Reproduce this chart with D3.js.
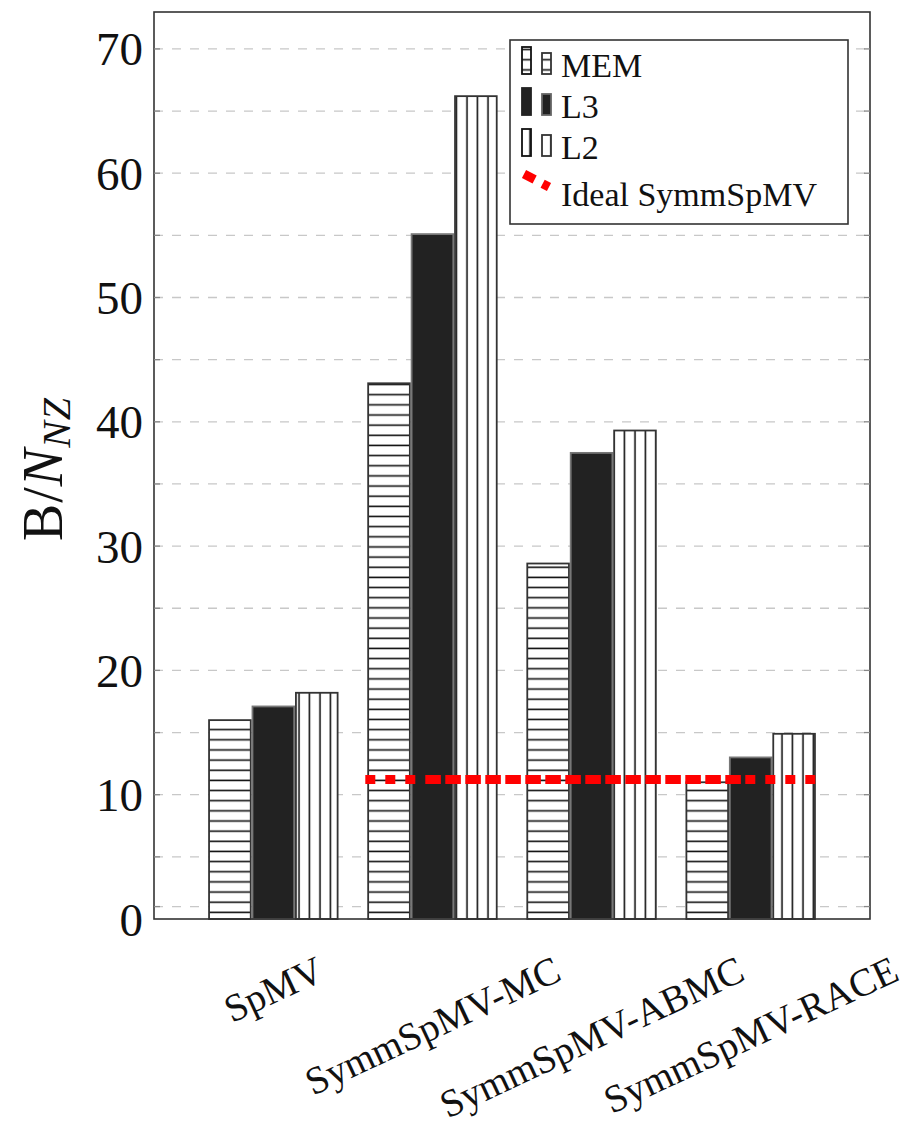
<html>
<script src='https://d3js.org/d3.v7.min.js'></script>
<style>
body {margin:0; background:white;}
text {font-family: 'Liberation Serif', 'DejaVu Serif', serif; fill:#111;}
</style>
<body onload='init()'>
<svg width=916 height=1128></svg>
<script>
// data
const categories = ["SpMV", "SymmSpMV-MC", "SymmSpMV-ABMC", "SymmSpMV-RACE"];
const seriesNames = ["MEM", "L3", "L2"];
const memValues = [16.0, 43.1, 28.6, 11.0];
const l3Values = [17.1, 55.1, 37.5, 13.0];
const l2Values = [18.2, 66.2, 39.3, 14.9];
const idealValue = 11.22;
const idealSpans = [[0.578, 3.42], [0.99, 2.98]];   // two overlapping dashed segments, x in group units
const yTicks = [0, 10, 20, 30, 40, 50, 60, 70];
const gridValues = [1, 5, 10, 15, 20, 25, 30, 35, 40, 45, 50, 55, 60, 65, 70];

function init() {
  var svg = d3.select("svg");
  var left = 154, right = 870, top = 12, bottom = 919;
  var x = d3.scaleLinear().domain([-0.75, 3.75]).range([left, right]);
  var y = d3.scaleLinear().domain([0, 72.97]).range([bottom, top]);

  var defs = svg.append("defs");
  var ph = defs.append("pattern").attr("id", "hlines").attr("patternUnits", "userSpaceOnUse")
    .attr("width", 10).attr("height", 10.15).attr("y", 4);
  ph.append("rect").attr("width", 10).attr("height", 10.15).attr("fill", "white");
  ph.append("line").attr("x1", 0).attr("x2", 10).attr("y1", 5).attr("y2", 5).attr("stroke", "#111").attr("stroke-width", 1.6);
  var pv = defs.append("pattern").attr("id", "vlines").attr("patternUnits", "userSpaceOnUse")
    .attr("width", 10.5).attr("height", 10).attr("x", 0);
  pv.append("rect").attr("width", 10.5).attr("height", 10).attr("fill", "white");
  pv.append("line").attr("x1", 5).attr("x2", 5).attr("y1", 0).attr("y2", 10).attr("stroke", "#111").attr("stroke-width", 1.6);

  var fills = {MEM: "url(#hlines)", L3: "#222", L2: "url(#vlines)"};
  var strokes = {MEM: "#333", L3: "#777", L2: "#333"};

  // grid
  svg.append("g").selectAll("line").data(gridValues).enter().append("line")
    .attr("x1", left).attr("x2", right)
    .attr("y1", d => y(d)).attr("y2", d => y(d))
    .attr("stroke", "#c8c8c8").attr("stroke-width", 1.3).attr("stroke-dasharray", "9 9");

  // bars
  var allValues = [memValues, l3Values, l2Values];
  var step = 0.273, bw = 0.262;
  var rows = [];
  seriesNames.forEach(function(s, j) {
    categories.forEach(function(c, i) {
      rows.push({s: s, i: i, j: j, v: allValues[j][i]});
    });
  });
  svg.append("g").selectAll("rect").data(rows).enter().append("rect")
    .attr("x", d => x(d.i + (d.j - 1) * step - bw / 2))
    .attr("width", d => x(bw) - x(0))
    .attr("y", d => y(d.v))
    .attr("height", d => y(0) - y(d.v))
    .attr("fill", d => fills[d.s])
    .attr("stroke", d => strokes[d.s]).attr("stroke-width", 1.8);

  // ideal line
  svg.append("g").selectAll("line").data(idealSpans).enter().append("line")
    .attr("x1", d => x(d[0])).attr("x2", d => x(d[1]))
    .attr("y1", y(idealValue)).attr("y2", y(idealValue))
    .attr("stroke", "#ff0000").attr("stroke-width", 9).attr("stroke-dasharray", "10 10");

  // frame and ticks
  svg.append("rect").attr("x", left).attr("y", top).attr("width", right - left).attr("height", bottom - top)
    .attr("fill", "none").attr("stroke", "#333").attr("stroke-width", 1.6);
  svg.append("g").selectAll("line").data(gridValues).enter().append("line")
    .attr("x1", left).attr("x2", left + 6).attr("y1", d => y(d)).attr("y2", d => y(d))
    .attr("stroke", "#888").attr("stroke-width", 1.3);
  svg.append("g").selectAll("line").data(gridValues).enter().append("line")
    .attr("x1", right - 6).attr("x2", right).attr("y1", d => y(d)).attr("y2", d => y(d))
    .attr("stroke", "#888").attr("stroke-width", 1.3);

  svg.append("g").selectAll("text").data(yTicks).enter().append("text")
    .attr("x", 143).attr("y", d => y(d) + 16.5)
    .attr("text-anchor", "end").attr("font-size", 47).text(d => d);

  // y label
  var yl = svg.append("text").attr("transform", "translate(62,469) rotate(-90)")
    .attr("text-anchor", "middle").attr("font-size", 56).attr("letter-spacing", 1);
  yl.append("tspan").text("B/");
  yl.append("tspan").attr("font-style", "italic").text("N");
  yl.append("tspan").attr("font-style", "italic").attr("font-size", 40).attr("dy", 8).text("NZ");

  // x labels, rotated, bbox top aligned
  var ang = 25 * Math.PI / 180, fs = 39, labelTop = 952;
  svg.append("g").selectAll("text").data(categories).enter().append("text")
    .attr("font-size", fs).attr("text-anchor", "middle").attr("dominant-baseline", "central")
    .text(d => d)
    .each(function(d, i) {
      var L = this.getComputedTextLength();
      var h = fs * 0.85;
      var cy = labelTop + (L * Math.sin(ang) + h * Math.cos(ang)) / 2;
      d3.select(this).attr("transform", "translate(" + x(i) + "," + cy + ") rotate(-25)");
    });

  // legend
  var lg = svg.append("g");
  lg.append("rect").attr("x", 510).attr("y", 40).attr("width", 338).attr("height", 184)
    .attr("fill", "white").attr("stroke", "#333").attr("stroke-width", 1.6);
  var rowsY = [77, 118, 159];
  seriesNames.forEach(function(s, j) {
    var b = rowsY[j] - 3;
    lg.append("rect").attr("x", 522).attr("y", b - 27).attr("width", 9).attr("height", 27)
      .attr("fill", fills[s]).attr("stroke", s == "L3" ? "#222" : "#111").attr("stroke-width", 1.8);
    lg.append("rect").attr("x", 542).attr("y", b - 21).attr("width", 9).attr("height", 21)
      .attr("fill", fills[s]).attr("stroke", s == "L3" ? "#666" : "#333").attr("stroke-width", 1.8);
    lg.append("text").attr("x", 561).attr("y", rowsY[j]).attr("font-size", 34).text(s);
  });
  lg.append("line").attr("x1", 524).attr("y1", 174).attr("x2", 549).attr("y2", 187)
    .attr("stroke", "#ff0000").attr("stroke-width", 9).attr("stroke-dasharray", "12 9");
  lg.append("text").attr("x", 561).attr("y", 206).attr("font-size", 34).text("Ideal SymmSpMV");
}
</script>
</body>
</html>
